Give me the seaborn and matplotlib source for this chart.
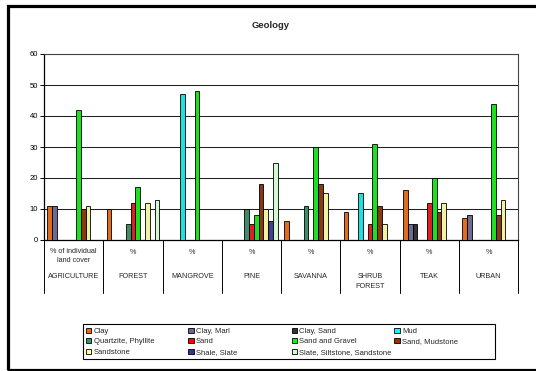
import matplotlib
matplotlib.use("Agg")
import matplotlib.pyplot as plt
import matplotlib.transforms as mtransforms
from matplotlib.patches import Patch, Rectangle
from matplotlib.lines import Line2D
import seaborn as sns
import pandas as pd

# Land cover classes along the x axis
categories = ["AGRICULTURE", "FOREST", "MANGROVE", "PINE", "SAVANNA",
              "SHRUB\nFOREST", "TEAK", "URBAN"]
unit_labels = ["% of individual\nland cover", "%", "%", "%", "%", "%", "%", "%"]

# Geology series (percent of each land cover), None = not present
series = ["Clay", "Clay, Marl", "Clay, Sand", "Mud", "Quartzite, Phyllite",
          "Sand", "Sand and Gravel", "Sand, Mudstone", "Sandstone",
          "Shale, Slate", "Slate, Siltstone, Sandstone"]

clay = [11, 10, None, None, 6, 9, 16, 7]
clay_marl = [11, None, None, None, None, None, 5, 8]
clay_sand = [None, None, None, None, None, None, 5, None]
mud = [None, None, 47, None, None, 15, None, None]
quartzite_phyllite = [None, 5, None, 10, 11, None, None, None]
sand = [None, 12, None, 5, None, 5, 12, None]
sand_gravel = [42, 17, 48, 8, 30, 31, 20, 44]
sand_mudstone = [10, None, None, 18, 18, 11, 9, 8]
sandstone = [11, 12, None, 10, 15, 5, 12, 13]
shale_slate = [None, None, None, 6, None, None, None, None]
slate_siltstone_sandstone = [None, 13, None, 25, None, None, None, None]

values = [clay, clay_marl, clay_sand, mud, quartzite_phyllite, sand,
          sand_gravel, sand_mudstone, sandstone, shale_slate,
          slate_siltstone_sandstone]

colors = ["#FF6600", "#666699", "#333333", "#00FFFF", "#339966", "#FF0000",
          "#00FF00", "#993300", "#FFFF99", "#333399", "#CCFFCC"]
palette = dict(zip(series, colors))

y_ticks = [0, 10, 20, 30, 40, 50, 60]

rows = []
for name, vals in zip(series, values):
    for cat, v in zip(categories, vals):
        if v is not None:
            rows.append({"cover": cat, "geology": name, "value": v})
df = pd.DataFrame(rows)

sns.set_style("white")
plt.rcParams["font.family"] = ["Liberation Sans", "DejaVu Sans"]

W, H = 536, 371
fig = plt.figure(figsize=(W / 100, H / 100), dpi=100)
ax = fig.add_axes([44 / W, 1 - 240 / H, (518.3 - 44) / W, (240 - 54) / H])

sns.barplot(data=df, x="cover", y="value", hue="geology", order=categories,
            hue_order=series, palette=palette, width=0.89, dodge=True,
            edgecolor="black", linewidth=0.6, legend=False, ax=ax, zorder=3)

ax.set_xlim(-0.5, len(categories) - 0.5)
ax.set_ylim(0, 60)
ax.set_yticks(y_ticks)
ax.set_yticklabels([str(t) for t in y_ticks], fontsize=5.5)
ax.tick_params(axis="y", direction="out", length=3, width=0.7, pad=1.5,
               left=True, colors="black")
ax.set_xticks([])
ax.set_xlabel("")
ax.set_ylabel("")
ax.yaxis.grid(True, color="#202020", linewidth=0.75, zorder=0)
ax.set_axisbelow(True)
for side in ["left", "bottom"]:
    ax.spines[side].set_color("black")
    ax.spines[side].set_linewidth(0.9)
for side in ["top", "right"]:
    ax.spines[side].set_color("#444444")
    ax.spines[side].set_linewidth(0.8)

# Two-level category axis with separators
trans = mtransforms.blended_transform_factory(ax.transData, fig.transFigure)
def fy(px):
    return 1 - px / H

for b in range(len(categories) + 1):
    x = b - 0.5
    fig.add_artist(Line2D([x, x], [fy(240), fy(293)], transform=trans,
                          color="black", linewidth=0.7))
for i, (cat, unit) in enumerate(zip(categories, unit_labels)):
    if "\n" in unit:
        fig.text(i, fy(251.5), unit.split("\n")[0], transform=trans,
                 ha="center", va="center", fontsize=5.2)
        fig.text(i, fy(260.5), unit.split("\n")[1], transform=trans,
                 ha="center", va="center", fontsize=5.2)
    else:
        fig.text(i, fy(252.5), unit, transform=trans, ha="center",
                 va="center", fontsize=5.2)
    parts = cat.split("\n")
    for k, p in enumerate(parts):
        fig.text(i, fy(276.5 + 9.5 * k), p, transform=trans, ha="center",
                 va="center", fontsize=5.2)

fig.text(271 / W, fy(26), "Geology", ha="center", va="center",
         fontsize=6.8, fontweight="bold")

# Legend: four columns, filled row by row
ncols = 4
col_x = [86, 188.3, 291.7, 394.3]
for c in range(ncols):
    names = series[c::ncols]
    handles = [Patch(facecolor=palette[n], edgecolor="black", linewidth=0.6)
               for n in names]
    fig.legend(handles, names, loc="upper left",
               bbox_to_anchor=(col_x[c] / W, fy(327.5)), frameon=False,
               fontsize=5.5, handlelength=0.7, handleheight=0.7,
               handletextpad=0.3, borderpad=0, borderaxespad=0,
               labelspacing=0.42)
fig.add_artist(Rectangle((83.3 / W, fy(359.3)), (495.3 - 83.3) / W,
                         (359.3 - 324.3) / H, transform=fig.transFigure,
                         fill=False, edgecolor="black", linewidth=0.8))

# Outer chart frame
fig.add_artist(Rectangle((7.5 / W, fy(369.5)), 1.1, (369.5 - 5.5) / H,
                         transform=fig.transFigure, fill=False,
                         edgecolor="black", linewidth=2.3))

fig.savefig("out.png", dpi=100)
